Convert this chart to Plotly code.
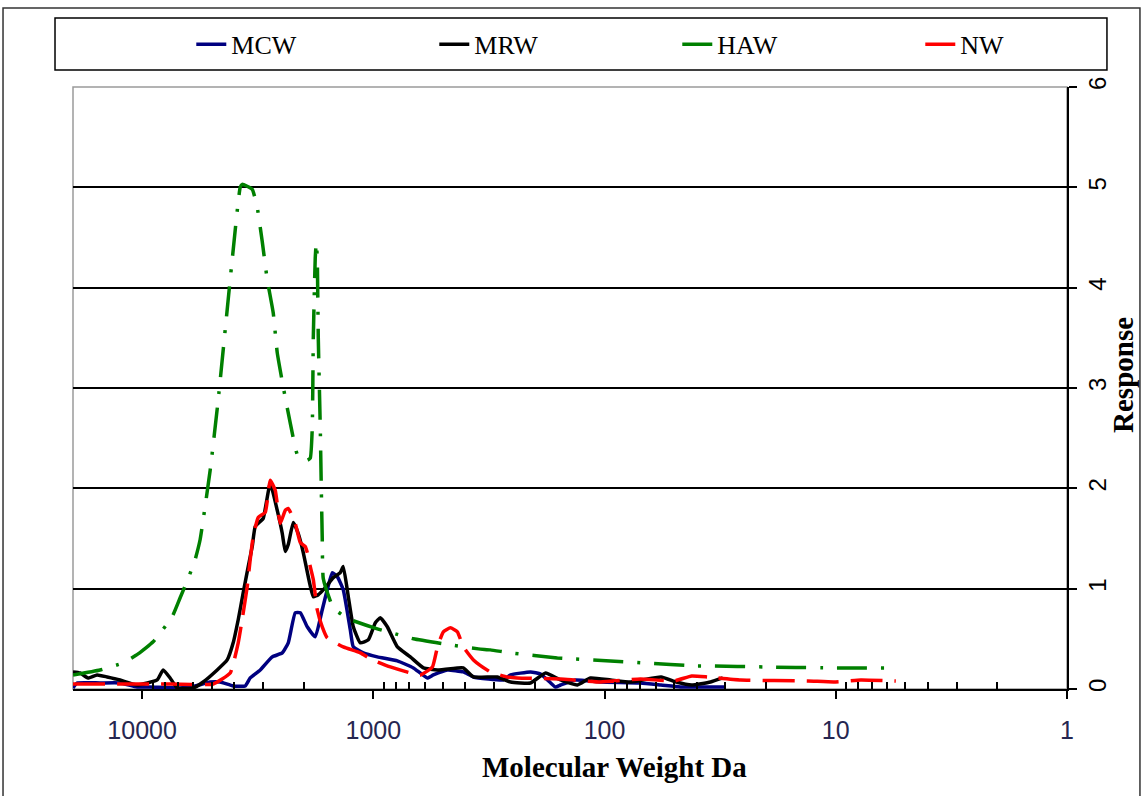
import plotly.graph_objects as go
import math

# ---------------- data (Molecular weight in Da, detector response) ----------------
mcw_mw = [19900, 19110, 15200, 12450, 10510, 9235, 6846, 5897, 5077, 4595, 4037, 3581, 3408,
          3084, 2737, 2476, 2333, 2176, 2070, 1931, 1783, 1663, 1582, 1505, 1432, 1349, 1258,
          1221, 1105, 961, 787, 671, 584, 550, 478, 408, 369, 274, 255, 209, 189, 171, 163,
          155, 134, 104, 70, 57, 47, 38.4, 30.2]
mcw_resp = [0.01, 0.06, 0.06, 0.06, 0.02, 0.02, 0.01, 0.03, 0.07, 0.07, 0.03, 0.03, 0.11,
            0.19, 0.32, 0.36, 0.46, 0.76, 0.76, 0.62, 0.52, 0.79, 0.99, 1.16, 1.12, 0.99, 0.59,
            0.42, 0.36, 0.32, 0.28, 0.21, 0.11, 0.14, 0.19, 0.17, 0.12, 0.09, 0.14, 0.17, 0.15,
            0.06, 0.02, 0.04, 0.09, 0.07, 0.06, 0.04, 0.02, 0.02, 0.02]

mrw_mw = [19900, 18550, 17130, 15660, 14170, 12450, 10510, 8610, 8110, 7565, 7055, 6015, 5444,
          4735, 4285, 4037, 3840, 3653, 3476, 3340, 3242, 3084, 2993, 2792, 2603, 2476, 2404,
          2333, 2219, 2112, 2009, 1912, 1818, 1730, 1614, 1490, 1390, 1349, 1283, 1221, 1138,
          1051, 980, 933, 870, 787, 692, 607, 528, 433, 408, 369, 291, 255, 209, 180, 155, 131,
          115, 94, 77, 57, 49, 42, 34.8, 30.8]
mrw_resp = [0.17, 0.16, 0.11, 0.14, 0.12, 0.09, 0.04, 0.09, 0.19, 0.11, 0.01, 0.01, 0.07,
            0.19, 0.29, 0.46, 0.69, 0.96, 1.22, 1.42, 1.62, 1.67, 1.70, 2.05, 1.78, 1.55, 1.37,
            1.44, 1.66, 1.55, 1.36, 1.12, 0.92, 0.94, 1.01, 1.11, 1.16, 1.22, 0.92, 0.62, 0.46,
            0.49, 0.66, 0.71, 0.62, 0.42, 0.32, 0.21, 0.19, 0.21, 0.21, 0.12, 0.12, 0.07, 0.06,
            0.16, 0.09, 0.04, 0.11, 0.09, 0.07, 0.12, 0.07, 0.04, 0.07, 0.11]

haw_mw = [19900, 15200, 12090, 10410, 8960, 7415, 6846, 6322, 5897, 5610, 5077, 4688, 4372,
          4077, 3765, 3690, 3340, 3178, 3023, 2876, 2710, 2603, 2452, 2287, 2112, 1931, 1874,
          1837, 1818, 1783, 1765, 1748, 1730, 1696, 1679, 1663, 1646, 1490, 1283, 961, 803,
          671, 498, 351, 312, 255, 160, 79.5, 68, 39.6, 34.8, 20.5, 10.8, 5.4]
haw_resp = [0.14, 0.19, 0.26, 0.35, 0.47, 0.72, 0.91, 1.10, 1.29, 1.49, 2.18, 2.88, 3.58,
            4.28, 5.00, 5.03, 4.98, 4.80, 4.46, 4.08, 3.75, 3.35, 3.01, 2.65, 2.31, 2.28, 2.30,
            2.60, 3.50, 4.30, 4.45, 4.30, 3.50, 2.60, 2.00, 1.50, 1.10, 0.81, 0.70, 0.60, 0.55,
            0.50, 0.45, 0.40, 0.39, 0.36, 0.31, 0.27, 0.26, 0.23, 0.23, 0.22, 0.21, 0.21]

nw_mw = [19900, 12450, 7565, 4927, 4159, 3840, 3653, 3511, 3408, 3307, 3146, 2934, 2792, 2656,
         2526, 2404, 2333, 2176, 2070, 1970, 1931, 1874, 1818, 1748, 1663, 1582, 1349, 1138,
         1030, 844, 626, 555, 528, 498, 464, 433, 408, 369, 312, 263, 238, 155, 136, 104, 70,
         50, 42, 35.8, 25.8, 13.2, 10.2, 7.8, 5.5]
nw_resp = [0.05, 0.05, 0.05, 0.05, 0.16, 0.46, 0.76, 1.02, 1.29, 1.52, 1.71, 1.76, 2.08, 1.98,
           1.65, 1.78, 1.80, 1.65, 1.46, 1.42, 1.36, 1.22, 1.09, 0.79, 0.62, 0.51, 0.42, 0.36,
           0.30, 0.22, 0.14, 0.22, 0.42, 0.57, 0.61, 0.57, 0.42, 0.29, 0.17, 0.12, 0.11, 0.10,
           0.09, 0.07, 0.10, 0.08, 0.13, 0.12, 0.09, 0.08, 0.07, 0.09, 0.08]

x_tick_vals = [10000, 1000, 100, 10, 1]
x_tick_text = ["10000", "1000", "100", "10", "1"]
x_minor_vals = [m * d for d in (1000, 100, 10, 1) for m in range(2, 10)] + [20000]
y_tick_vals = [0, 1, 2, 3, 4, 5, 6]
x_title = "Molecular Weight Da"
y_title = "Response"

series = [
    ("MCW", mcw_mw, mcw_resp, "#000080", "solid"),
    ("MRW", mrw_mw, mrw_resp, "#000000", "solid"),
    ("HAW", haw_mw, haw_resp, "#008000", "30px,14px,3px,14px"),
    ("NW", nw_mw, nw_resp, "#FF0000", "32px,12px"),
]

fig = go.Figure()
for name, xs, ys, color, dash in series:
    fig.add_trace(go.Scatter(
        x=xs, y=ys, name=name, mode="lines",
        line=dict(color=color, width=3.5, dash=dash, shape="spline", smoothing=0.4),
    ))

serif = "Liberation Serif, Times New Roman, serif"
sans = "Liberation Sans, Arial, sans-serif"

fig.update_layout(
    width=1143, height=796, autosize=False,
    margin=dict(l=73, r=76, t=87, b=107, autoexpand=False),
    paper_bgcolor="white", plot_bgcolor="white",
    showlegend=True,
    legend=dict(
        orientation="h", x=0.119, y=1.071, xanchor="left", yanchor="middle",
        entrywidth=198, entrywidthmode="pixels",
        font=dict(family=serif, size=26, color="black"),
        bgcolor="rgba(0,0,0,0)", borderwidth=0,
    ),
    xaxis=dict(
        type="log", range=[math.log10(19900), 0], automargin=False,
        tickmode="array", tickvals=x_tick_vals, ticktext=x_tick_text,
        ticks="outside", ticklen=8, tickwidth=1.5, tickcolor="black",
        ticklabelstandoff=10,
        minor=dict(tickmode="array", tickvals=x_minor_vals, ticks="inside",
                   ticklen=7, tickwidth=1.5, tickcolor="black", showgrid=False),
        showline=True, linecolor="black", linewidth=1.5,
        showgrid=False, zeroline=False,
        tickfont=dict(family=sans, size=25, color="#262650"),
    ),
    yaxis=dict(
        range=[0, 6], side="right", automargin=False,
        tickmode="array", tickvals=y_tick_vals,
        ticks="outside", ticklen=8, tickwidth=1.5, tickcolor="black",
        tickangle=-90,
        showline=True, linecolor="black", linewidth=1.5,
        showgrid=True, gridcolor="black", gridwidth=1.5,
        zeroline=False,
        tickfont=dict(family=sans, size=24, color="black"),
    ),
    annotations=[
        dict(text="<b>" + x_title + "</b>", xref="paper", yref="paper",
             x=0.545, y=-0.1296, xanchor="center", yanchor="middle", showarrow=False,
             font=dict(family=serif, size=29, color="black")),
        dict(text="<b>" + y_title + "</b>", xref="paper", yref="paper",
             x=1.0563, y=0.5216, xanchor="center", yanchor="middle", showarrow=False,
             textangle=-90, font=dict(family=serif, size=29, color="black")),
    ],
    shapes=[
        # plot-area frame (grey, like the spreadsheet chart)
        dict(type="rect", xref="paper", yref="paper", x0=0, y0=0, x1=1, y1=1,
             line=dict(color="#9a9a9a", width=1.5), layer="below"),
        # legend box
        dict(type="rect", xref="paper", yref="paper", x0=-0.0181, y0=1.0282,
             x1=1.0402, y1=1.1146, line=dict(color="black", width=1.5)),
        # outer chart border
        dict(type="rect", xref="paper", yref="paper", x0=-0.0704, y0=-0.19,
             x1=1.0734, y1=1.1312, line=dict(color="#333333", width=1.5)),
    ],
)

fig.write_html("out.html")
